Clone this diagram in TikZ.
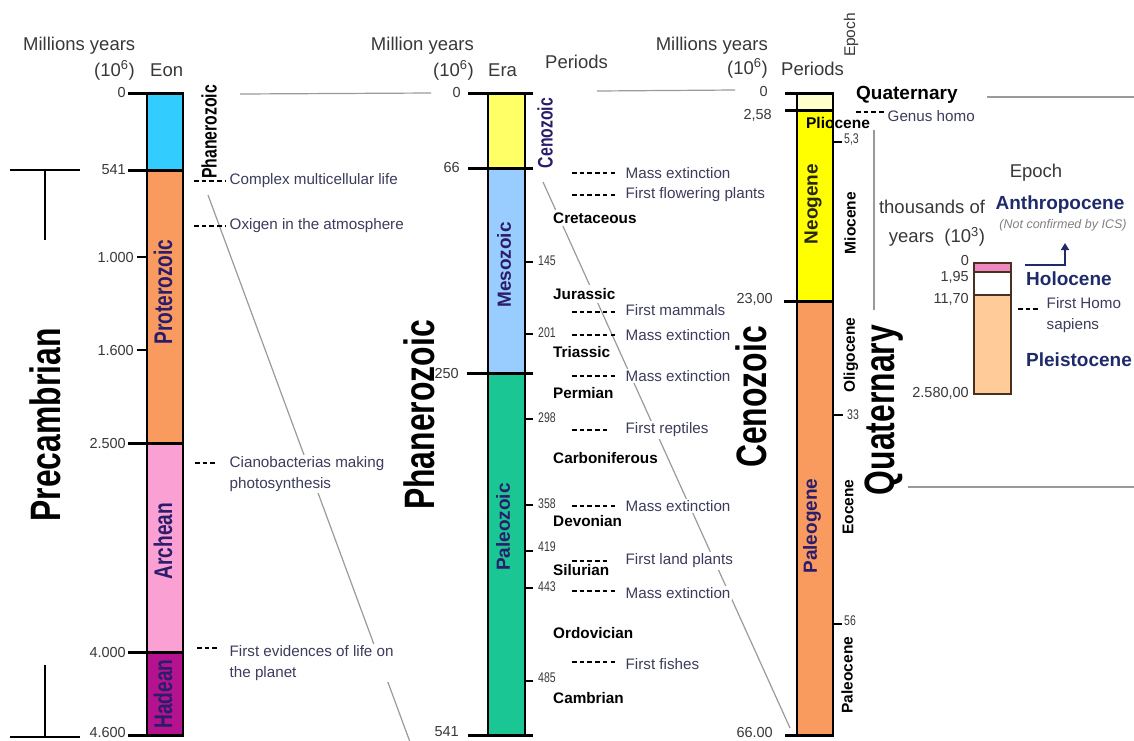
\documentclass[tikz,border=0pt]{standalone}
\usepackage{fontspec}
\setmainfont{Liberation Sans}
\newfontfamily\narrowsans{Liberation Sans}[FakeStretch=0.75]
\usetikzlibrary{arrows.meta}

\definecolor{phanblue}{HTML}{33CCFF}
\definecolor{proteroorange}{HTML}{F99A5E}
\definecolor{archpink}{HTML}{FAA0D2}
\definecolor{hadmagenta}{HTML}{B4128F}
\definecolor{cenoyellow}{HTML}{FFFF66}
\definecolor{mesoblue}{HTML}{99CCFF}
\definecolor{paleogreen}{HTML}{1AC694}
\definecolor{quatyellow}{HTML}{FFFFCC}
\definecolor{neoyellow}{HTML}{FFFF00}
\definecolor{holopink}{HTML}{EE88BE}
\definecolor{pleistopeach}{HTML}{FFCC99}
\definecolor{labelnavy}{HTML}{2B1D6B}
\definecolor{epochnavy}{HTML}{1F2A6B}
\definecolor{neotext}{HTML}{262612}
\definecolor{eventgrey}{HTML}{3C3C5C}
\definecolor{numgrey}{HTML}{383838}
\definecolor{guidegrey}{HTML}{9A9A9A}
\definecolor{insetbrown}{HTML}{4A3020}

\begin{document}
\begin{tikzpicture}[x=1pt,y=-1pt,
    header/.style ={text=numgrey, inner sep=0pt, font=\fontsize{18.5}{20}\selectfont},
    num/.style ={text=numgrey, inner sep=0pt, anchor=east, font=\fontsize{14.5}{16}\selectfont},
    smallnum/.style ={text=numgrey, inner sep=0pt, anchor=west, font=\narrowsans\fontsize{14}{15}\selectfont},
    event/.style ={text=eventgrey, fill=white, inner sep=1.5pt, anchor=west, align=left, font=\fontsize{15.2}{21}\selectfont},
    period/.style ={fill=white, inner sep=3pt, anchor=west, font=\bfseries\fontsize{15.3}{17}\selectfont},
    eonlabel/.style ={rotate=90, text=labelnavy, inner sep=0pt, font=\narrowsans\bfseries\fontsize{25.5}{27}\selectfont},
    eralabel/.style ={rotate=90, text=labelnavy, inner sep=0pt, font=\bfseries\fontsize{19}{21}\selectfont},
    epochlabel/.style ={rotate=90, inner sep=0pt, font=\bfseries\fontsize{15.5}{17}\selectfont},
    outlabel/.style ={rotate=90, inner sep=0pt, font=\narrowsans\bfseries\fontsize{21}{23}\selectfont},
    bigtitle/.style ={rotate=90, inner sep=0pt, font=\narrowsans\bfseries\fontsize{42.5}{44}\selectfont},
    insetlabel/.style ={text=epochnavy, inner sep=0pt, anchor=west, font=\bfseries\fontsize{19}{21}\selectfont},
    colline/.style ={line width=2.5pt},
    tickline/.style ={line width=3pt},
    minortick/.style ={line width=2pt},
    leaderline/.style ={line width=1.1pt, dash pattern=on 4.5pt off 3.2pt},
    guide/.style ={guidegrey, line width=1.2pt},
    brkline/.style ={line width=1.3pt}]
   \useasboundingbox (0,0) rectangle (1134,740);

   \coordinate (gA1) at (240,94);
   \coordinate (gA2) at (431,93);
   \coordinate (gB1) at (208,195);
   \coordinate (gB2) at (410,742);
   \coordinate (gC1) at (597,91);
   \coordinate (gC2) at (735,90);
   \coordinate (gD1) at (543,182);
   \coordinate (gD2) at (790,728);
   \coordinate (gE1) at (874,130);
   \coordinate (gE2) at (874,310);
   \coordinate (gF1) at (987,97);
   \coordinate (gF2) at (1134,97);
   \coordinate (gG1) at (908,487);
   \coordinate (gG2) at (1134,487);
   \draw[guide] (gA1) -- (gA2);
   \draw[guide] (gB1) -- (gB2);
   \draw[guide] (gC1) -- (gC2);
   \draw[guide] (gD1) -- (gD2);
   \draw[guide] (gE1) -- (gE2);
   \draw[guide] (gF1) -- (gF2);
   \draw[guide] (gG1) -- (gG2);

   \draw[brkline] (10,170) -- (80,170);
   \draw[brkline] (45,170) -- (45,240);
   \draw[brkline] (45,665) -- (45,737);
   \draw[brkline] (10,737) -- (80,737);

   \node[header, anchor=base west] (hyrs1) at (23,50) {Millions years};
   \node[header, anchor=base east] (hpow1) at (135,76) {(10\textsuperscript{6})};
   \node[header, anchor=base west] (heon) at (150,76) {Eon};
   \node[header, anchor=base east] (hyrs2) at (474,50) {Million years};
   \node[header, anchor=base east] (hpow2) at (474,76) {(10\textsuperscript{6})};
   \node[header, anchor=base west] (hera) at (488,76) {Era};
   \node[header, anchor=base west] (hper1) at (545,68) {Periods};
   \node[header, anchor=base east] (hyrs3) at (768,50) {Millions years};
   \node[header, anchor=base east] (hpow3) at (768,74) {(10\textsuperscript{6})};
   \node[header, anchor=base west] (hper2) at (781,75) {Periods};
   \node[header, rotate=90, font=\fontsize{15.5}{17}\selectfont] (hepoch) at (851,35) {Epoch};

   \fill[phanblue] (147,93) rectangle (183,170);
   \fill[proteroorange] (147,170) rectangle (183,443);
   \fill[archpink] (147,443) rectangle (183,652);
   \fill[hadmagenta] (147,652) rectangle (183,735);
   \draw[colline] (147,93) -- (147,735);
   \draw[colline] (183,93) -- (183,735);
   \draw[tickline] (128,93) -- (184,93);
   \draw[tickline] (128,170) -- (184,170);
   \draw[minortick] (137,257) -- (147,257);
   \draw[minortick] (137,350) -- (147,350);
   \draw[tickline] (128,443) -- (184,443);
   \draw[tickline] (128,652) -- (184,652);
   \draw[tickline] (128,735) -- (184,735);
   \node[num] (e0) at (126,93) {0};
   \node[num] (e541) at (126,170) {541};
   \node[num] (e1000) at (134,257) {1.000};
   \node[num] (e1600) at (134,350) {1.600};
   \node[num] (e2500) at (126,443) {2.500};
   \node[num] (e4000) at (126,652) {4.000};
   \node[num] (e4600) at (126,732) {4.600};
   \node[outlabel] (phansmall) at (209,132) {Phanerozoic};
   \node[eonlabel] (protero) at (163,292) {Proterozoic};
   \node[eonlabel] (archean) at (163,541) {Archean};
   \node[eonlabel] (hadean) at (163,694) {Hadean};

   \node[event] (ev1) at (228,181) {Complex multicellular life};
   \node[event] (ev2) at (228,226) {Oxigen in the atmosphere};
   \node[event] (ev3) at (228,474) {Cianobacterias making\\photosynthesis};
   \node[event] (ev4) at (228,663) {First evidences of life on\\the planet};
   \draw[leaderline] ([xshift=-34pt]ev1.west) -- ([xshift=-2pt]ev1.west);
   \draw[leaderline] ([xshift=-34pt]ev2.west) -- ([xshift=-2pt]ev2.west);
   \draw[leaderline] ([xshift=-33pt,yshift=11pt]ev3.west) -- ([xshift=-12pt,yshift=11pt]ev3.west);
   \draw[leaderline] ([xshift=-31pt,yshift=15pt]ev4.west) -- ([xshift=-10pt,yshift=15pt]ev4.west);

   \node[bigtitle] (precamb) at (45,425) {Precambrian};
   \node[bigtitle] (phanbig) at (419,415) {Phanerozoic};
   \node[bigtitle] (cenobig) at (751,397) {Cenozoic};
   \node[bigtitle] (quatbig) at (884,410) {Quaternary};

   \fill[cenoyellow] (488,93) rectangle (525,168);
   \fill[mesoblue] (488,168) rectangle (525,373);
   \fill[paleogreen] (488,373) rectangle (525,735);
   \draw[colline] (488,93) -- (488,735);
   \draw[colline] (525,93) -- (525,735);
   \draw[tickline] (468,93) -- (533,93);
   \draw[tickline] (468,168) -- (533,168);
   \draw[tickline] (467,373) -- (533,373);
   \draw[tickline] (468,735) -- (533,735);
   \draw[minortick] (525,262) -- (533,262);
   \draw[minortick] (525,334) -- (533,334);
   \draw[minortick] (525,419) -- (533,419);
   \draw[minortick] (525,505) -- (533,505);
   \draw[minortick] (525,551) -- (533,551);
   \draw[minortick] (525,588) -- (533,588);
   \draw[minortick] (525,681) -- (533,681);
   \node[num] (m0) at (461,93) {0};
   \node[num] (m66) at (460,168) {66};
   \node[num] (m250) at (459,373) {250};
   \node[num] (m541) at (459,732) {541};
   \node[smallnum] (m145) at (538,261) {145};
   \node[smallnum] (m201) at (538,333) {201};
   \node[smallnum] (m298) at (538,418) {298};
   \node[smallnum] (m358) at (538,504) {358};
   \node[smallnum] (m419) at (538,547) {419};
   \node[smallnum] (m443) at (538,587) {443};
   \node[smallnum] (m485) at (538,678) {485};
   \node[outlabel, text=labelnavy] (cenosmall) at (545,133) {Cenozoic};
   \node[eralabel] (mesoz) at (504,265) {Mesozoic};
   \node[eralabel] (paleoz) at (503,527) {Paleozoic};

   \node[period] (cret) at (550,218) {Cretaceous};
   \node[period] (jura) at (550,294) {Jurassic};
   \node[period] (trias) at (550,352) {Triassic};
   \node[period] (perm) at (550,393) {Permian};
   \node[period] (carb) at (550,458) {Carboniferous};
   \node[period] (devon) at (550,521) {Devonian};
   \node[period] (silur) at (550,570) {Silurian};
   \node[period] (ordo) at (550,633) {Ordovician};
   \node[period] (camb) at (550,698) {Cambrian};

   \node[event] (mx1) at (624,173) {Mass extinction};
   \node[event] (flow) at (624,195) {First flowering plants};
   \node[event] (mamm) at (624,310) {First mammals};
   \node[event] (mx2) at (624,335) {Mass extinction};
   \node[event] (mx3) at (624,376) {Mass extinction};
   \node[event] (rept) at (624,430) {First reptiles};
   \node[event] (mx4) at (624,506) {Mass extinction};
   \node[event] (land) at (624,561) {First land plants};
   \node[event] (mx5) at (624,593) {Mass extinction};
   \node[event] (fish) at (624,664) {First fishes};
   \draw[leaderline] ([xshift=-52pt]mx1.west) -- ([xshift=-6pt]mx1.west);
   \draw[leaderline] ([xshift=-52pt]flow.west) -- ([xshift=-6pt]flow.west);
   \draw[leaderline] ([xshift=-52pt,yshift=-2pt]mamm.west) -- ([xshift=-6pt,yshift=-2pt]mamm.west);
   \draw[leaderline] ([xshift=-52pt]mx2.west) -- ([xshift=-6pt]mx2.west);
   \draw[leaderline] ([xshift=-52pt]mx3.west) -- ([xshift=-6pt]mx3.west);
   \draw[leaderline] ([xshift=-52pt]rept.west) -- ([xshift=-14pt]rept.west);
   \draw[leaderline] ([xshift=-52pt]mx4.west) -- ([xshift=-6pt]mx4.west);
   \draw[leaderline] ([xshift=-52pt]land.west) -- ([xshift=-14pt]land.west);
   \draw[leaderline] ([xshift=-52pt,yshift=2pt]mx5.west) -- ([xshift=-6pt,yshift=2pt]mx5.west);
   \draw[leaderline] ([xshift=-52pt,yshift=2pt]fish.west) -- ([xshift=-6pt,yshift=2pt]fish.west);

   \fill[quatyellow] (797,93) rectangle (833,110);
   \fill[neoyellow] (797,110) rectangle (833,301);
   \fill[proteroorange] (797,301) rectangle (833,735);
   \draw[colline] (797,93) -- (797,735);
   \draw[colline] (833,93) -- (833,735);
   \draw[tickline] (785,93) -- (834,93);
   \draw[tickline] (785,110) -- (834,110);
   \draw[tickline] (784,301) -- (834,301);
   \draw[tickline] (785,735) -- (834,735);
   \draw[minortick] (833,142) -- (842,142);
   \draw[minortick] (833,415) -- (843,415);
   \draw[minortick] (833,624) -- (842,624);
   \node[num] (r0) at (768,92) {0};
   \node[num] (r258) at (772,115) {2,58};
   \node[num] (r23) at (773,299) {23,00};
   \node[num] (r66) at (773,732) {66.00};
   \node[smallnum] (r53) at (844,140) {5,3};
   \node[smallnum] (r33) at (847,415) {33};
   \node[smallnum] (r56) at (844,621) {56};
   \node[eralabel, text=neotext] (neogene) at (813,204) {Neogene};
   \node[eralabel] (paleogene) at (812,526) {Paleogene};
   \node[inner sep=0pt, font=\bfseries\fontsize{15.5}{17}\selectfont] (plio) at (838,123) {Pliocene};
   \node[epochlabel] (mio) at (850,223) {Miocene};
   \node[epochlabel] (oligo) at (851,355) {Oligocene};
   \node[epochlabel] (eoc) at (848,507) {Eocene};
   \node[epochlabel] (paleoc) at (847,675) {Paleocene};
   \node[inner sep=0pt, anchor=west, font=\bfseries\fontsize{19}{21}\selectfont] (quatsmall) at (856,95) {Quaternary};
   \node[event] (genus) at (886,116) {Genus homo};
   \draw[leaderline] ([xshift=-30pt,yshift=4pt]genus.west) -- ([xshift=-2pt,yshift=4pt]genus.west);

   \node[header] (epochhd) at (1036,173) {Epoch};
   \node[insetlabel, anchor=center] (anthro) at (1060,205) {Anthropocene};
   \node[inner sep=0pt, text=gray, font=\itshape\fontsize{12.5}{14}\selectfont] (notconf) at (1063,225) {(Not confirmed by ICS)};
   \node[header] (thous) at (932,207) {thousands of};
   \node[header] (kyears) at (937,237) {years\ \ (10\textsuperscript{3})};
   \fill[holopink] (974,263) rectangle (1011,272);
   \fill[white] (974,272) rectangle (1011,295);
   \fill[pleistopeach] (974,295) rectangle (1011,394);
   \draw[insetbrown, line width=1.6pt] (974,263) rectangle (1011,394);
   \draw[insetbrown, line width=1.6pt] (974,272) -- (1011,272);
   \draw[insetbrown, line width=1.6pt] (974,295) -- (1011,295);
   \node[num] (q0) at (969,260) {0};
   \node[num] (q195) at (969,277) {1,95};
   \node[num] (q1170) at (969,299) {11,70};
   \node[num] (q2580) at (969,393) {2.580,00};
   \coordinate (arrfrom) at (1025,265);
   \coordinate (arrto) at (1065,243);
   \draw[epochnavy, line width=2pt, -{Triangle[width=8pt,length=7pt]}] (arrfrom) -| (arrto);
   \node[insetlabel] (holo) at (1026,279) {Holocene};
   \node[insetlabel] (pleisto) at (1026,360) {Pleistocene};
   \node[event] (homo) at (1045,315) {First Homo\\sapiens};
   \draw[leaderline] ([xshift=-27pt,yshift=6pt]homo.west) -- ([xshift=-4pt,yshift=6pt]homo.west);
 \end{tikzpicture}
\end{document}
